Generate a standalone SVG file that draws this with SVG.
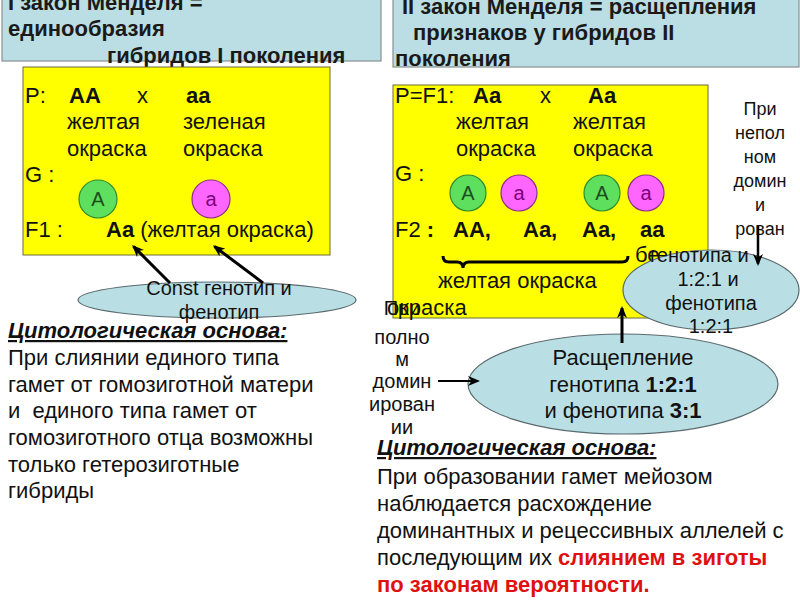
<svg xmlns="http://www.w3.org/2000/svg" width="800" height="600" viewBox="0 0 800 600">
<defs>
<style>
text{font-family:"Liberation Sans",Arial,sans-serif;fill:#111;}
.t{font-size:22px;font-weight:bold;fill:#1a1a1a;}
.b{font-size:22px;}
.bb{font-size:22px;font-weight:bold;}
.s{font-size:18px;}
.m{font-size:20px;}
.c{text-anchor:middle;}
.hdr{font-size:22px;font-weight:bold;font-style:italic;text-decoration:underline;}
.red{fill:#e01010;font-weight:bold;}
.tbox{fill:#badee3;stroke:#8a8f90;stroke-width:1.2;}
.ybox{fill:#ffff00;stroke:#6b6b3a;stroke-width:1;}
.ell{fill:#b9dfe5;stroke:#5a6a6e;stroke-width:1.2;}
.gA{fill:#5ee05e;stroke:#2e8b2e;stroke-width:1.2;}
.ga{fill:#ff66ff;stroke:#8b2e8b;stroke-width:1.2;}
.la{font-size:20px;fill:#1d4d1d;}
.lb{font-size:20px;fill:#7a007a;}
.arr{stroke:#000;fill:none;marker-end:url(#ah);}
</style>
<marker id="ah" viewBox="0 0 12 10" refX="10" refY="5" markerWidth="12" markerHeight="10" markerUnits="userSpaceOnUse" orient="auto">
<path d="M0,0 L12,5 L0,10 L3.5,5 Z" fill="#000"/>
</marker>
</defs>
<rect width="800" height="600" fill="#fff"/>

<g id="title1">
<rect class="tbox" x="2" y="-10" width="379" height="71"/>
<text class="t" x="8" y="10">I закон Менделя =</text>
<text class="t" x="8" y="36">единообразия</text>
<text class="t" x="107" y="63">гибридов I поколения</text>
</g>

<g id="title2">
<rect class="tbox" x="393" y="-10" width="406" height="77"/>
<text class="t" x="402" y="14">II закон Менделя = расщепления</text>
<text class="t" x="413" y="40">признаков у гибридов II</text>
<text class="t" x="395" y="66">поколения</text>
</g>

<g id="box1">
<rect class="ybox" x="23" y="67" width="307" height="188"/>
<text class="b" x="25" y="103">P:</text>
<text class="bb" x="69" y="103">AA</text>
<text class="b" x="137" y="103">x</text>
<text class="bb" x="186" y="103">aa</text>
<text class="b" x="67" y="129">желтая</text>
<text class="b" x="183" y="129">зеленая</text>
<text class="b" x="67" y="156">окраска</text>
<text class="b" x="183" y="156">окраска</text>
<text class="b" x="25" y="182">G :</text>
<circle class="gA" cx="98" cy="199" r="19"/>
<text class="la c" x="98" y="206">A</text>
<circle class="ga" cx="211" cy="199" r="19"/>
<text class="lb c" x="211" y="206">a</text>
<text class="b" x="25" y="237">F1 :</text>
<text class="b" x="106" y="237"><tspan font-weight="bold">Aa</tspan> (желтая окраска)</text>
</g>

<g id="box2">
<rect class="ybox" x="393" y="85" width="315" height="233"/>
<text class="b" x="395" y="103">P=F1:</text>
<text class="bb" x="473" y="103">Aa</text>
<text class="b" x="540" y="103">x</text>
<text class="bb" x="588" y="103">Aa</text>
<text class="b" x="456" y="129">желтая</text>
<text class="b" x="573" y="129">желтая</text>
<text class="b" x="456" y="156">окраска</text>
<text class="b" x="573" y="156">окраска</text>
<text class="b" x="395" y="181">G :</text>
<circle class="gA" cx="468" cy="193" r="18"/>
<text class="la c" x="468" y="200">A</text>
<circle class="ga" cx="519" cy="193" r="18"/>
<text class="lb c" x="519" y="200">a</text>
<circle class="gA" cx="602" cy="193" r="18"/>
<text class="la c" x="602" y="200">A</text>
<circle class="ga" cx="646" cy="193" r="18"/>
<text class="lb c" x="646" y="200">a</text>
<text class="b" x="395" y="237">F2 <tspan font-weight="bold">:</tspan></text>
<text class="bb" x="453" y="237">AA,</text>
<text class="bb" x="523" y="237">Aa,</text>
<text class="bb" x="582" y="237">Aa,</text>
<text class="bb" x="640" y="237">aa</text>
<path d="M443,256 Q443,262 449,262 L457,262 Q463,262 463,268 Q463,262 469,262 L622,262 Q628,262 628,256" fill="none" stroke="#000" stroke-width="3"/>
<text class="b" x="438" y="288">желтая окраска</text>
<text class="b" x="387" y="315">окраска</text>
<text class="b" x="635" y="262">бе</text>
</g>

<g id="note-incomplete">
<text class="s c" x="760" y="115">При</text>
<text class="s c" x="760" y="139">непол</text>
<text class="s c" x="760" y="163">ном</text>
<text class="s c" x="760" y="187">домин</text>
<text class="s c" x="760" y="211">и</text>
<text class="s c" x="760" y="235">рован</text>
</g>

<g id="note-complete">
<text class="m c" x="402" y="315">При</text>
<text class="m c" x="402" y="344">полно</text>
<text class="m c" x="402" y="366">м</text>
<text class="m c" x="402" y="388">домин</text>
<text class="m c" x="402" y="411">ирован</text>
<text class="m c" x="402" y="434">ии</text>
</g>

<g id="ellipse-const">
<ellipse class="ell" cx="217" cy="300" rx="139" ry="18"/>
<text class="m c" x="219" y="295">Const генотип и</text>
<text class="m c" x="219" y="319">фенотип</text>
</g>

<g id="ellipse-incomplete">
<ellipse class="ell" cx="711" cy="290" rx="88" ry="40"/>
<text class="m" x="650" y="262">генотипа и</text>
<text class="m c" x="708" y="286">1:2:1 и</text>
<text class="m c" x="711" y="310">фенотипа</text>
<text class="m c" x="711" y="333">1:2:1</text>
</g>

<g id="ellipse-split">
<ellipse class="ell" cx="623" cy="384" rx="155" ry="50"/>
<text class="b c" x="623" y="365">Расщепление</text>
<text class="b c" x="623" y="392">генотипа <tspan font-weight="bold">1:2:1</tspan></text>
<text class="b c" x="623" y="418">и фенотипа <tspan font-weight="bold">3:1</tspan></text>
</g>

<g id="connectors">
<line class="arr" x1="170" y1="283" x2="133.5" y2="246.5" stroke-width="3"/>
<line class="arr" x1="263" y1="283" x2="214.5" y2="246.5" stroke-width="3"/>
<line class="arr" x1="622" y1="343" x2="622" y2="308" stroke-width="3"/>
<line class="arr" x1="438" y1="381" x2="478" y2="381" stroke-width="2.2"/>
<line class="arr" x1="758" y1="226" x2="758" y2="264" stroke-width="2.5"/>
</g>

<g id="text-left">
<text class="hdr" x="8" y="338">Цитологическая основа:</text>
<text class="b" x="8" y="365">При слиянии единого типа</text>
<text class="b" x="8" y="392">гамет от гомозиготной матери</text>
<text class="b" x="8" y="418" xml:space="preserve">и  единого типа гамет от</text>
<text class="b" x="8" y="445">гомозиготного отца возможны</text>
<text class="b" x="8" y="472">только гетерозиготные</text>
<text class="b" x="8" y="498">гибриды</text>
</g>

<g id="text-right">
<text class="hdr" x="377" y="455">Цитологическая основа:</text>
<text class="b" x="377" y="484">При образовании гамет мейозом</text>
<text class="b" x="377" y="511">наблюдается расхождение</text>
<text class="b" x="377" y="538">доминантных и рецессивных аллелей с</text>
<text class="b" x="377" y="565">последующим их <tspan class="red">слиянием в зиготы</tspan></text>
<text class="b red" x="377" y="592">по законам вероятности.</text>
</g>
</svg>
